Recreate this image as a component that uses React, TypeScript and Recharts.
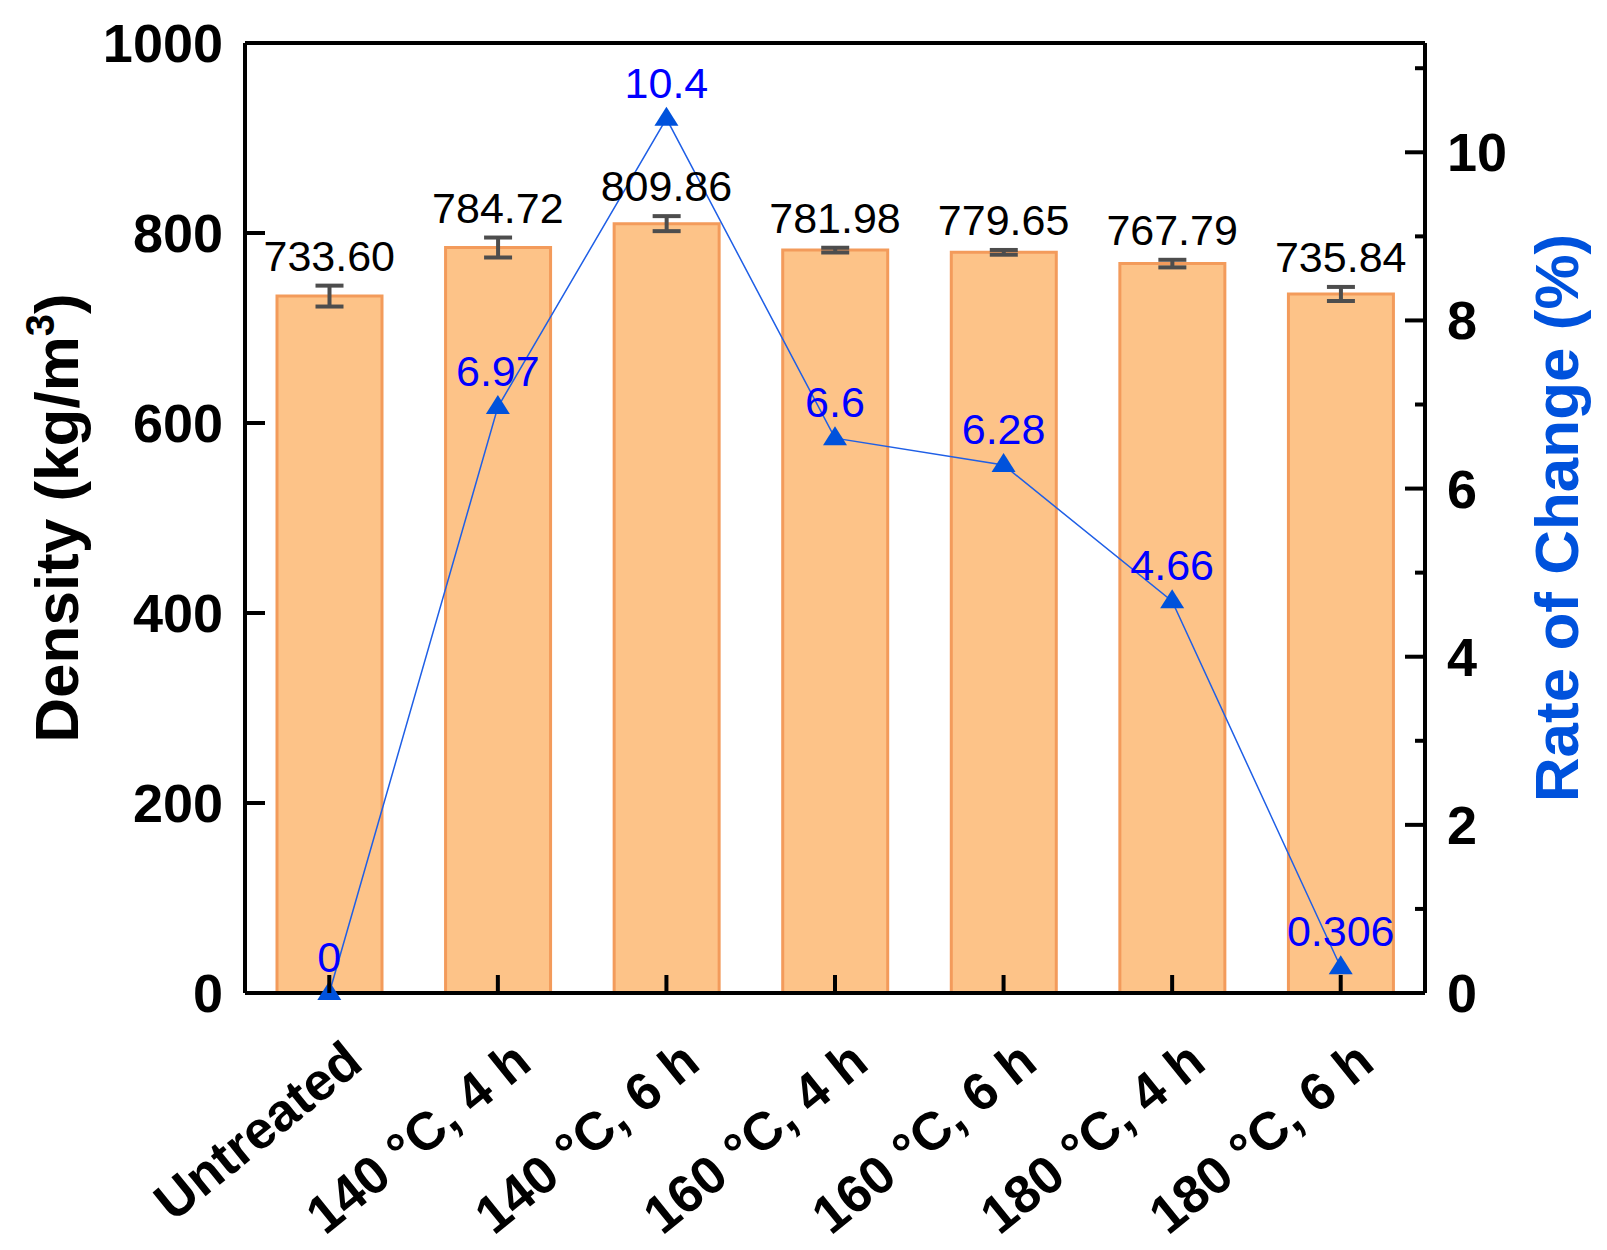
import React from 'react';
import {
    ComposedChart, Bar, Line, XAxis, YAxis, ErrorBar, LabelList, ReferenceLine
} from 'recharts';

const categories = ['Untreated', '140 °C, 4 h', '140 °C, 6 h', '160 °C, 4 h', '160 °C, 6 h', '180 °C, 4 h', '180 °C, 6 h'];
const density = [733.60, 784.72, 809.86, 781.98, 779.65, 767.79, 735.84];
const densityErr = [11, 10.5, 7.9, 2.5, 2.5, 4, 7.4];
const rateOfChange = [0, 6.97, 10.4, 6.6, 6.28, 4.66, 0.306];

const densityTicks = [0, 200, 400, 600, 800, 1000];
const rateTicks = [0, 1, 2, 3, 4, 5, 6, 7, 8, 9, 10, 11];

const FONT = '"Liberation Sans", Arial, sans-serif';
const RATE_BLUE = '#0052DC';

const data = categories.map((name, i) => ({
    name,
    density: density[i],
    err: densityErr[i],
    top: density[i] + densityErr[i],
    rate: rateOfChange[i],
}));

const LeftTick = ({ x, y, payload }: any) => (
    <g>
        <line x1={x} x2={x + 20} y1={y} y2={y} stroke="#000" strokeWidth={4} />
        <text x={x - 22} y={y + 19} textAnchor="end" fontFamily={FONT} fontWeight="bold" fontSize={54} fill="#000">
            {payload.value}
        </text>
    </g>
);

const RightTick = ({ x, y, payload }: any) => {
    const major = payload.value % 2 === 0;
    return (
        <g>
            <line x1={x} x2={x - (major ? 20 : 10)} y1={y} y2={y} stroke="#000" strokeWidth={4} />
            {major && (
                <text x={x + 22} y={y + 19} textAnchor="start" fontFamily={FONT} fontWeight="bold" fontSize={54} fill="#000">
                    {payload.value}
                </text>
            )}
        </g>
    );
};

const BottomTick = ({ x, y, payload }: any) => {
    const ax = x + 36;
    const ay = y + 74;
    return (
        <g>
            <line x1={x} x2={x} y1={y} y2={y - 18} stroke="#000" strokeWidth={4} />
            <text x={ax} y={ay} textAnchor="end" transform={`rotate(-39 ${ax} ${ay})`}
                fontFamily={FONT} fontWeight="bold" fontSize={53} fill="#000">
                {payload.value}
            </text>
        </g>
    );
};

const LeftTitle = ({ viewBox }: any) => {
    const cx = viewBox.x + 70;
    const cy = viewBox.y + viewBox.height / 2;
    return (
        <text x={cx} y={cy} textAnchor="middle" transform={`rotate(-90 ${cx} ${cy})`}
            fontFamily={FONT} fontWeight="bold" fontSize={62} fill="#000">
            Density (kg/m<tspan dy={-24} fontSize={40}>3</tspan><tspan dy={24}>)</tspan>
        </text>
    );
};

const RightTitle = ({ viewBox }: any) => {
    const cx = viewBox.x + 153;
    const cy = viewBox.y + viewBox.height / 2;
    return (
        <text x={cx} y={cy} textAnchor="middle" transform={`rotate(-90 ${cx} ${cy})`}
            fontFamily={FONT} fontWeight="bold" fontSize={62} fill={RATE_BLUE}>
            Rate of Change (%)
        </text>
    );
};

const Triangle = ({ cx, cy, index }: any) => (
    <polygon key={`tri-${index}`} points={`${cx},${cy - 12} ${cx - 12},${cy + 7} ${cx + 12},${cy + 7}`} fill={RATE_BLUE} />
);

const DensityLabel = ({ x, y, value }: any) => (
    <text x={x} y={y - 15} textAnchor="middle" fontFamily={FONT} fontSize={43} fill="#000">
        {Number(value).toFixed(2)}
    </text>
);

const RateLabel = ({ x, y, value }: any) => (
    <text x={x} y={y - 21} textAnchor="middle" fontFamily={FONT} fontSize={43} fill="#0000FF">
        {String(value)}
    </text>
);

export default function App() {
    return (
        <div style={{ width: 1590, height: 1230, background: '#fff' }}>
            <ComposedChart width={1590} height={1230} data={data} margin={{ top: 35, right: 0, bottom: 0, left: 0 }}>
                <XAxis
                    dataKey="name"
                    interval={0}
                    height={245}
                    tickSize={0}
                    tickMargin={0}
                    tick={<BottomTick />}
                    axisLine={{ stroke: '#000', strokeWidth: 4 }}
                />
                <YAxis
                    yAxisId="left"
                    domain={[0, 1000]}
                    ticks={densityTicks}
                    interval={0}
                    width={237}
                    tickSize={0}
                    tickMargin={0}
                    tick={<LeftTick />}
                    axisLine={{ stroke: '#000', strokeWidth: 4 }}
                    label={<LeftTitle />}
                />
                <YAxis
                    yAxisId="right"
                    orientation="right"
                    domain={[0, 11.3]}
                    ticks={rateTicks}
                    interval={0}
                    width={173}
                    tickSize={0}
                    tickMargin={0}
                    tick={<RightTick />}
                    axisLine={{ stroke: '#000', strokeWidth: 4 }}
                    label={<RightTitle />}
                />
                <ReferenceLine yAxisId="left" y={1000} stroke="#000" strokeWidth={4} />
                <Bar yAxisId="left" dataKey="density" barSize={105} fill="#FDC388" stroke="#F39B5B" strokeWidth={3} isAnimationActive={false}>
                    <ErrorBar dataKey="err" width={14} stroke="#4d4d4d" strokeWidth={4} direction="y" />
                </Bar>
                <Line yAxisId="left" dataKey="top" stroke="none" dot={false} activeDot={false} legendType="none" isAnimationActive={false}>
                    <LabelList dataKey="density" content={<DensityLabel />} />
                </Line>
                <Line
                    yAxisId="right"
                    dataKey="rate"
                    type="linear"
                    stroke="#1F5FE6"
                    strokeWidth={1.5}
                    dot={(p: any) => <Triangle key={`tri-${p.index}`} {...p} />}
                    activeDot={false}
                    isAnimationActive={false}
                >
                    <LabelList dataKey="rate" content={<RateLabel />} />
                </Line>
            </ComposedChart>
        </div>
    );
}
